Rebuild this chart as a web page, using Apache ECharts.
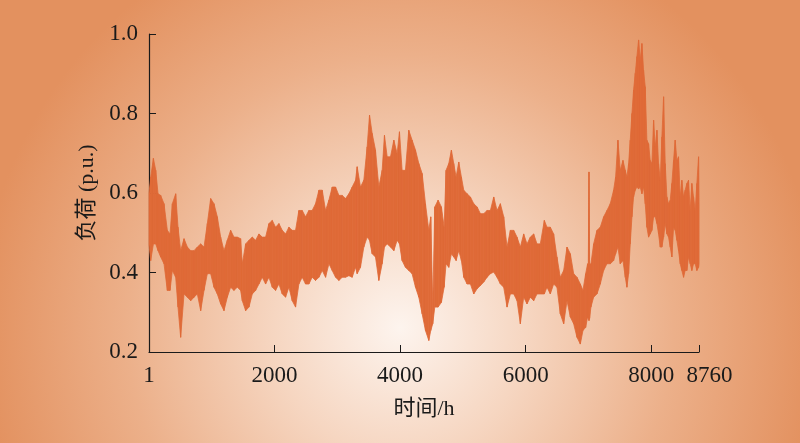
<!DOCTYPE html>
<html>
<head>
<meta charset="utf-8">
<script src="https://cdn.jsdelivr.net/npm/echarts@6/dist/echarts.min.js"></script>
<style>html,body{margin:0;padding:0;}#c{width:800px;height:443px;}</style>
</head>
<body>
<div id="c"></div>
<script>
var hours = [
  1, 28, 71, 108, 145, 187, 240, 293, 336, 373, 426, 463, 505, 559, 612, 665, 718, 771, 824, 877, 930, 983, 1036, 1089, 1142, 1195, 1248, 1301, 1354, 1407, 1460,
  1487, 1540, 1593, 1646, 1699, 1752, 1805, 1858, 1911, 1964, 2017, 2070, 2123, 2176, 2229, 2282, 2335, 2388, 2441, 2494, 2547, 2600, 2653, 2707, 2760, 2813, 2866, 2919, 2972,
  3025, 3078, 3131, 3184, 3237, 3290, 3316, 3369, 3422, 3475, 3513, 3555, 3608, 3661, 3714, 3751, 3794, 3847, 3900, 3953, 3990, 4032, 4085, 4138, 4191, 4245, 4298, 4351, 4404, 4457,
  4488, 4520, 4552, 4605, 4658, 4701, 4732, 4775, 4817, 4854, 4892, 4934, 4976, 5014, 5067, 5120, 5173, 5226, 5279, 5332, 5385, 5438, 5491, 5544, 5597, 5650, 5703, 5756, 5809, 5862, 5915, 5968,
  6021, 6074, 6127, 6180, 6233, 6297, 6339, 6392, 6445, 6498, 6551, 6605, 6658, 6711, 6764, 6817, 6870, 6912, 6955, 6986, 6997, 7008, 7018, 7039, 7082, 7135, 7188, 7241, 7294, 7347, 7400, 7432, 7469, 7506,
  7549, 7586, 7612, 7639, 7665, 7692, 7718, 7745, 7771, 7798, 7824, 7851, 7877, 7904, 7930, 7957, 7983, 8010, 8037, 8063, 8090, 8116, 8143, 8169, 8196, 8222, 8249, 8275, 8302, 8328, 8355, 8381, 8408, 8434, 8461, 8487, 8514, 8540, 8567, 8593, 8620, 8646, 8673, 8700, 8726, 8753, 8760
];
// Upper envelope of the hourly load (p.u.)
var upper = [
  0.600, 0.640, 0.687, 0.657, 0.598, 0.594, 0.573, 0.506, 0.497, 0.573, 0.598, 0.514, 0.455, 0.485, 0.464, 0.455, 0.455, 0.464, 0.472, 0.464, 0.523, 0.586, 0.573, 0.540, 0.489, 0.455, 0.481, 0.506, 0.489, 0.489, 0.485,
  0.422, 0.472, 0.481, 0.489, 0.481, 0.497, 0.489, 0.489, 0.523, 0.531, 0.514, 0.523, 0.506, 0.497, 0.514, 0.506, 0.506, 0.556, 0.556, 0.540, 0.556, 0.556, 0.573, 0.607, 0.607, 0.556, 0.582, 0.615, 0.615,
  0.594, 0.594, 0.586, 0.598, 0.615, 0.632, 0.666, 0.615, 0.632, 0.716, 0.796, 0.750, 0.708, 0.615, 0.657, 0.745, 0.691, 0.691, 0.733, 0.699, 0.754, 0.657, 0.657, 0.758, 0.733, 0.708, 0.674, 0.649, 0.573, 0.506,
  0.540, 0.321, 0.565, 0.582, 0.565, 0.514, 0.657, 0.674, 0.708, 0.674, 0.640, 0.678, 0.640, 0.607, 0.598, 0.590, 0.573, 0.565, 0.548, 0.548, 0.556, 0.556, 0.590, 0.556, 0.573, 0.540, 0.464, 0.506, 0.506, 0.489, 0.464, 0.497,
  0.472, 0.489, 0.497, 0.472, 0.472, 0.531, 0.514, 0.514, 0.497, 0.439, 0.388, 0.405, 0.464, 0.447, 0.397, 0.388, 0.371, 0.355, 0.397, 0.422, 0.420, 0.653, 0.420, 0.422, 0.472, 0.506, 0.514, 0.540, 0.556, 0.573, 0.607, 0.640, 0.733, 0.657,
  0.682, 0.657, 0.640, 0.674, 0.733, 0.800, 0.859, 0.901, 0.943, 0.985, 0.934, 0.976, 0.909, 0.867, 0.733, 0.724, 0.682, 0.674, 0.783, 0.716, 0.758, 0.674, 0.632, 0.741, 0.842, 0.674, 0.590, 0.573, 0.582, 0.624, 0.682, 0.733, 0.682, 0.691, 0.590, 0.632, 0.590, 0.607, 0.624, 0.632, 0.556, 0.624, 0.590, 0.556, 0.624, 0.691, 0.573
];
// Lower envelope of the hourly load (p.u.)
var lower = [
  0.470, 0.430, 0.472, 0.472, 0.455, 0.439, 0.422, 0.355, 0.355, 0.405, 0.388, 0.313, 0.237, 0.346, 0.338, 0.329, 0.338, 0.346, 0.304, 0.355, 0.397, 0.397, 0.363, 0.346, 0.321, 0.304, 0.338, 0.363, 0.355, 0.363, 0.355,
  0.329, 0.304, 0.313, 0.346, 0.355, 0.371, 0.388, 0.371, 0.388, 0.363, 0.355, 0.371, 0.346, 0.338, 0.363, 0.329, 0.313, 0.371, 0.388, 0.371, 0.371, 0.388, 0.380, 0.388, 0.405, 0.388, 0.422, 0.405, 0.388,
  0.380, 0.388, 0.388, 0.392, 0.388, 0.413, 0.397, 0.413, 0.464, 0.489, 0.481, 0.447, 0.439, 0.380, 0.422, 0.464, 0.472, 0.464, 0.455, 0.481, 0.472, 0.430, 0.413, 0.405, 0.397, 0.363, 0.338, 0.296, 0.254, 0.229,
  0.254, 0.271, 0.313, 0.313, 0.325, 0.363, 0.422, 0.413, 0.447, 0.439, 0.430, 0.455, 0.430, 0.388, 0.371, 0.371, 0.346, 0.359, 0.367, 0.376, 0.388, 0.397, 0.401, 0.388, 0.371, 0.363, 0.313, 0.346, 0.346, 0.329, 0.271, 0.338,
  0.321, 0.338, 0.329, 0.346, 0.346, 0.346, 0.363, 0.346, 0.371, 0.363, 0.296, 0.271, 0.329, 0.288, 0.271, 0.237, 0.220, 0.254, 0.262, 0.288, 0.285, 0.279, 0.285, 0.313, 0.338, 0.346, 0.371, 0.405, 0.422, 0.422, 0.430, 0.447, 0.464, 0.422,
  0.430, 0.388, 0.363, 0.397, 0.472, 0.540, 0.590, 0.607, 0.615, 0.610, 0.615, 0.598, 0.615, 0.573, 0.514, 0.489, 0.497, 0.506, 0.540, 0.540, 0.523, 0.497, 0.464, 0.464, 0.489, 0.523, 0.497, 0.489, 0.464, 0.439, 0.514, 0.506, 0.481, 0.455, 0.422, 0.405, 0.388, 0.405, 0.405, 0.439, 0.422, 0.405, 0.422, 0.422, 0.405, 0.413, 0.422
];
var xTickValues = [1, 2000, 4000, 6000, 8000, 8760];
var yMin = 0.2, yMax = 1.0, yStep = 0.2;

// one band segment per pair of neighbouring columns
var segData = [];
for (var i = 0; i < hours.length - 1; i++) {
  segData.push([hours[i], lower[i], upper[i], hours[i + 1], lower[i + 1], upper[i + 1]]);
}

var lineColor = '#DF6A37';
var serif = "'Liberation Serif', 'Times New Roman', 'Noto Sans CJK SC', serif";
var labelStyle = { color: '#1a1a1a', fontFamily: serif, fontSize: 23 };

var chart = echarts.init(document.getElementById('c'), null, { renderer: 'canvas' });
chart.setOption({
  animation: false,
  graphic: [{
    type: 'rect', z: -10, silent: true,
    shape: { x: 0, y: 0, width: 800, height: 443 },
    style: {
      fill: new echarts.graphic.RadialGradient(0.5, 0.74, 0.95, [
        { offset: 0, color: '#FDF4EE' },
        { offset: 0.3, color: '#F6D6C1' },
        { offset: 0.65, color: '#ECB08A' },
        { offset: 1, color: '#E3915F' }
      ])
    }
  }],
  grid: { left: 149, right: 101, top: 34, bottom: 91 },
  xAxis: {
    type: 'value', min: 1, max: 8760,
    splitLine: { show: false },
    axisLine: { show: true, lineStyle: { color: '#1a1a1a', width: 1.2 } },
    axisTick: { show: true, inside: true, length: 7, customValues: xTickValues, lineStyle: { color: '#1a1a1a' } },
    axisLabel: { customValues: xTickValues, hideOverlap: false, showMaxLabel: true, showMinLabel: true,
      color: '#1a1a1a', fontFamily: serif, fontSize: 23, margin: 12,
      formatter: function (v) {
        var s = String(Math.round(v));
        return v >= 8760 ? '{last|' + s + '}' : s;
      },
      rich: { last: Object.assign({ padding: [0, 0, 0, 21] }, labelStyle) } },
    name: '时间/h', nameLocation: 'middle', nameGap: 46,
    nameTextStyle: { color: '#1a1a1a', fontFamily: serif, fontSize: 22 }
  },
  yAxis: {
    type: 'value', min: yMin, max: yMax, interval: yStep,
    splitLine: { show: false },
    axisLine: { show: true, lineStyle: { color: '#1a1a1a', width: 1.2 } },
    axisTick: { show: true, inside: true, length: 7, lineStyle: { color: '#1a1a1a' } },
    axisLabel: { color: '#1a1a1a', fontFamily: serif, fontSize: 23, margin: 11,
      formatter: function (v) { return v.toFixed(1); } },
    name: '负荷 (p.u.)', nameLocation: 'middle', nameRotate: 90, nameGap: 50,
    nameTextStyle: { color: '#1a1a1a', fontFamily: serif, fontSize: 22 }
  },
  series: [{
    type: 'custom',
    data: segData,
    encode: { x: [0, 3], y: [1, 2, 4, 5] },
    renderItem: function (params, api) {
      var a1 = api.coord([api.value(0), api.value(1)]);
      var a2 = api.coord([api.value(0), api.value(2)]);
      var b2 = api.coord([api.value(3), api.value(5)]);
      var b1 = api.coord([api.value(3), api.value(4)]);
      return {
        type: 'polygon',
        shape: { points: [a1, a2, b2, b1] },
        style: { fill: lineColor, stroke: lineColor, lineWidth: 0.8 }
      };
    }
  }]
});
</script>
</body>
</html>
